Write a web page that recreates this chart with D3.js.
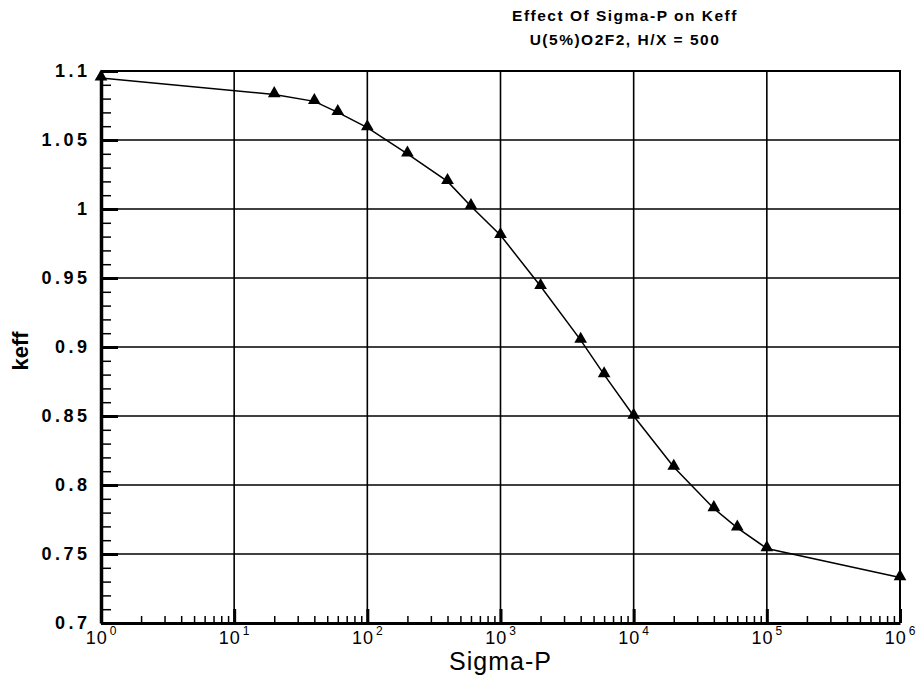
<!DOCTYPE html>
<html>
<head>
<meta charset="utf-8">
<script src="https://cdn.jsdelivr.net/npm/d3@7"></script>
<style>
	body { margin: 0; background: #fff; }
	svg { display: block; font-family: "Liberation Sans", Arial, sans-serif; }
</style>
</head>
<body>
<svg id="chart" width="923" height="677"></svg>
<script>
// data
var sigmaP = [1, 20, 40, 60, 100, 200, 400, 600, 1000, 2000, 4000, 6000, 10000, 20000, 40000, 60000, 100000, 1000000];
var keff = [1.095, 1.083, 1.078, 1.070, 1.059, 1.040, 1.020, 1.002, 0.981, 0.944, 0.905, 0.880, 0.850, 0.813, 0.783, 0.769, 0.754, 0.733];

var xMajor = [1, 10, 100, 1000, 10000, 100000, 1000000];
var yMajor = [0.7, 0.75, 0.8, 0.85, 0.9, 0.95, 1, 1.05, 1.1];
var titleLines = ["Effect Of Sigma-P on Keff", "U(5%)O2F2, H/X = 500"];

var svg = d3.select("#chart");
// note: "top" clashes with window.top, so plot edges get their own names
var plotLeft = 101, plotRight = 900, plotTop = 71, plotBottom = 623;

var x = d3.scaleLog().domain([1, 1000000]).range([plotLeft, plotRight]);
var y = d3.scaleLinear().domain([0.7, 1.1]).range([plotBottom, plotTop]);

// minor ticks
var xMinor = [];
for (var d = 0; d < 6; d++) {
	for (var m = 2; m <= 9; m++) {
		xMinor.push(m * Math.pow(10, d));
	}
}
var yMinor = [];
for (var i = 0; i <= 40; i++) {
	if (i % 5 != 0) yMinor.push(0.7 + i * 0.01);
}

// grid
svg.append("g").selectAll("line")
	.data(xMajor.slice(1, -1))
	.enter().append("line")
	.attr("x1", function (d) { return x(d); })
	.attr("x2", function (d) { return x(d); })
	.attr("y1", plotTop).attr("y2", plotBottom)
	.attr("stroke", "#000").attr("stroke-width", 1.6);

svg.append("g").selectAll("line")
	.data(yMajor.slice(1, -1))
	.enter().append("line")
	.attr("x1", plotLeft).attr("x2", plotRight)
	.attr("y1", function (d) { return y(d); })
	.attr("y2", function (d) { return y(d); })
	.attr("stroke", "#000").attr("stroke-width", 1.6);

// frame top/right
svg.append("path")
	.attr("d", "M" + plotLeft + "," + plotTop + "H" + plotRight + "V" + plotBottom)
	.attr("fill", "none").attr("stroke", "#000").attr("stroke-width", 2);

// x axis
var xMinorAxis = d3.axisBottom(x).tickValues(xMinor).tickSizeInner(-7).tickSizeOuter(0).tickFormat("");
svg.append("g").attr("transform", "translate(0," + plotBottom + ")").call(xMinorAxis)
	.call(function (g) { g.select(".domain").remove(); })
	.selectAll("line").attr("stroke-width", 1.5);

var xAxis = d3.axisBottom(x).tickValues(xMajor).tickSizeInner(-14).tickSizeOuter(0)
	.tickFormat(function (d) { return ""; });
var gx = svg.append("g").attr("transform", "translate(0," + plotBottom + ")").call(xAxis);
gx.select(".domain").attr("stroke-width", 3);
gx.selectAll(".tick line").attr("stroke-width", 3);
gx.selectAll(".tick text")
	.attr("font-size", 18).attr("font-weight", "normal").attr("fill", "#000")
	.attr("dy", 0).attr("y", 21).attr("letter-spacing", 1)
	.each(function (d) {
		var t = d3.select(this);
		t.append("tspan").text("10");
		t.append("tspan").attr("font-size", 12).attr("dy", -9).attr("dx", 2).text(Math.round(Math.log10(d)));
	});

// y axis
var yMinorAxis = d3.axisLeft(y).tickValues(yMinor).tickSizeInner(-10).tickSizeOuter(0).tickFormat("");
svg.append("g").attr("transform", "translate(" + plotLeft + ",0)").call(yMinorAxis)
	.call(function (g) { g.select(".domain").remove(); })
	.selectAll("line").attr("stroke-width", 1.5);

var yAxis = d3.axisLeft(y).tickValues(yMajor).tickSizeInner(-17).tickSizeOuter(0).tickPadding(14)
	.tickFormat(function (d) { return String(d); });
var gy = svg.append("g").attr("transform", "translate(" + plotLeft + ",0)").call(yAxis);
gy.select(".domain").attr("stroke-width", 3.5);
gy.selectAll(".tick line").attr("stroke-width", 3);
gy.selectAll(".tick text")
	.attr("font-size", 18).attr("font-weight", "bold").attr("fill", "#000")
	.attr("letter-spacing", 3.5).attr("dx", 3.5);

// curve, straight segments between the points
var line = d3.line()
	.x(function (d, i) { return x(sigmaP[i]); })
	.y(function (d) { return y(d); });

svg.append("path")
	.datum(keff)
	.attr("d", line)
	.attr("fill", "none")
	.attr("stroke", "#000")
	.attr("stroke-width", 1.5);

var tri = d3.symbol().type(d3.symbolTriangle).size(70);
svg.append("g").selectAll("path")
	.data(keff)
	.enter().append("path")
	.attr("d", tri)
	.attr("transform", function (d, i) { return "translate(" + x(sigmaP[i]) + "," + (y(d) - 1) + ")"; })
	.attr("fill", "#000");

// titles
svg.append("g").selectAll("text")
	.data(titleLines)
	.enter().append("text")
	.attr("x", 625)
	.attr("y", function (d, i) { return 21 + i * 24; })
	.attr("text-anchor", "middle")
	.attr("font-size", 15.5)
	.attr("font-weight", "bold")
	.attr("letter-spacing", 1.5)
	.text(function (d) { return d; });

svg.append("text")
	.attr("x", (plotLeft + plotRight) / 2)
	.attr("y", 670)
	.attr("text-anchor", "middle")
	.attr("font-size", 25)
	.attr("letter-spacing", 1)
	.text("Sigma-P");

svg.append("text")
	.attr("transform", "translate(28,351) rotate(-90)")
	.attr("text-anchor", "middle")
	.attr("font-size", 22)
	.attr("font-weight", "bold")
	.text("keff");
</script>
</body>
</html>
